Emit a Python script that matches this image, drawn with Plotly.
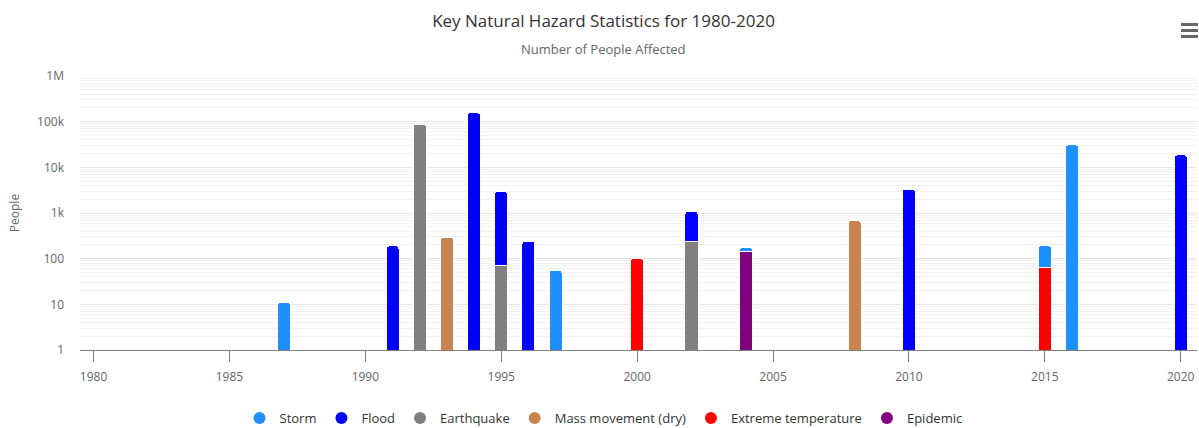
import plotly.graph_objects as go

# Affected people per hazard type and year
storm_years = [1987, 1997, 2004, 2015, 2016]
storm_values = [11, 55, 27, 127, 31000]

flood_years = [1991, 1994, 1995, 1996, 2002, 2010, 2020]
flood_values = [190, 156000, 2900, 240, 850, 3300, 18700]

earthquake_years = [1992, 1995, 2002]
earthquake_values = [87000, 70, 240]

mass_years = [1993, 2008]
mass_values = [290, 675]

extreme_years = [2000, 2015]
extreme_values = [100, 64]

epidemic_years = [2004]
epidemic_values = [147]

y_tick_vals = [1, 10, 100, 1000, 10000, 100000, 1000000]
y_tick_text = ["1", "10", "100", "1k", "10k", "100k", "1M"]
x_tick_vals = [1980, 1985, 1990, 1995, 2000, 2005, 2010, 2015, 2020]

series = [
    ("Storm", storm_years, storm_values, "#1e90ff"),
    ("Flood", flood_years, flood_values, "#0000ff"),
    ("Earthquake", earthquake_years, earthquake_values, "#808080"),
    ("Mass movement (dry)", mass_years, mass_values, "#c8834f"),
    ("Extreme temperature", extreme_years, extreme_values, "#ff0000"),
    ("Epidemic", epidemic_years, epidemic_values, "#800080"),
]

FONT = "Open Sans, Roboto, sans-serif"

fig = go.Figure()

# Bars: later series go first so the first series ends up on top of each stack
for name, xs, ys, color in reversed(series):
    fig.add_trace(go.Bar(
        x=xs, y=ys, name=name, legendgroup=name, showlegend=False,
        width=0.48,
        marker=dict(color=color, line=dict(color="white", width=1)),
        hovertemplate=name + ": %{y}<extra>%{x}</extra>",
    ))

# Legend entries drawn as round symbols
for name, xs, ys, color in series:
    fig.add_trace(go.Scatter(
        x=[None], y=[None], mode="markers", name=name, legendgroup=name,
        marker=dict(symbol="circle", size=12, color=color),
        showlegend=True,
    ))

W, H = 1199, 428
L, R, T, B = 80, 2, 76, 78
pw, ph = W - L - R, H - T - B

def px_x(px):
    return (px - L) / pw

def px_y(py):
    return (H - B - py) / ph

# Menu icon (three bars) in the top-right corner
shapes = []
for py in (24.5, 30.5, 36.5):
    shapes.append(dict(
        type="line", xref="paper", yref="paper",
        x0=px_x(1181), x1=px_x(1198), y0=px_y(py), y1=px_y(py),
        line=dict(color="#666666", width=3),
    ))

fig.update_layout(
    width=W, height=H,
    margin=dict(l=L, r=R, t=T, b=B),
    paper_bgcolor="white", plot_bgcolor="white",
    barmode="stack",
    barcornerradius=3,
    font=dict(family=FONT, color="#666666", size=12),
    title=dict(
        text="Key Natural Hazard Statistics for 1980-2020",
        x=603.5 / W, xref="container", xanchor="center",
        y=1 - 21 / H, yref="container", yanchor="middle",
        font=dict(family=FONT, size=17, color="#333333"),
    ),
    annotations=[dict(
        text="Number of People Affected", showarrow=False,
        xref="paper", yref="paper", x=px_x(603.5), y=px_y(49),
        xanchor="center", yanchor="middle",
        font=dict(family=FONT, size=13, color="#666666"),
    )],
    shapes=shapes,
    xaxis=dict(
        range=[1979.5, 2020.6],
        tickvals=x_tick_vals,
        ticks="outside", ticklen=11, tickcolor="#808080", tickwidth=1,
        ticklabelstandoff=5,
        showline=True, linecolor="#808080", linewidth=1,
        showgrid=False, zeroline=False,
        tickfont=dict(family=FONT, size=12, color="#666666"),
    ),
    yaxis=dict(
        type="log", range=[0, 6],
        tickvals=y_tick_vals, ticktext=y_tick_text,
        showgrid=True, gridcolor="#e6e6e6", gridwidth=1,
        minor=dict(dtick="D1", showgrid=True, gridcolor="#f2f2f2", gridwidth=1),
        showline=False, zeroline=False, ticks="", ticklabelstandoff=15,
        tickfont=dict(family=FONT, size=12, color="#666666"),
        title=dict(text="People", standoff=14,
                   font=dict(family=FONT, size=12, color="#666666")),
    ),
    legend=dict(
        orientation="h", xref="container", yref="container",
        x=603.5 / W, y=1 - 418 / H, xanchor="center", yanchor="middle",
        font=dict(family=FONT, size=13, color="#333333"),
        itemwidth=30, traceorder="normal",
    ),
    showlegend=True,
)

fig.write_html("out.html")
